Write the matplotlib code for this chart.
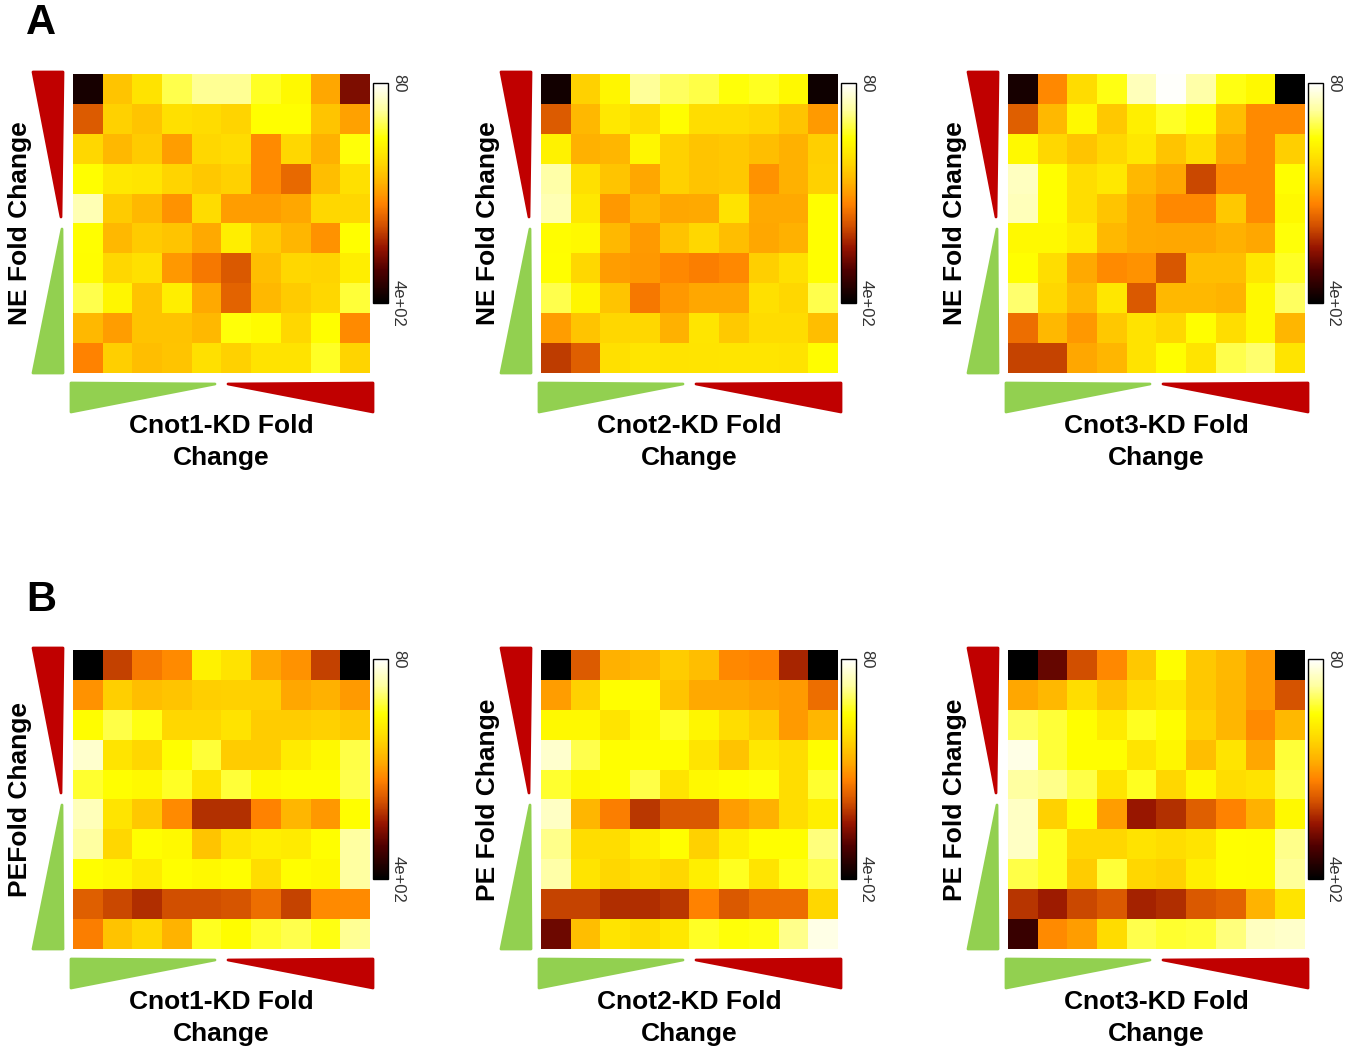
import numpy as np
import matplotlib
matplotlib.use("Agg")
import matplotlib.pyplot as plt
from matplotlib.colors import LinearSegmentedColormap
from matplotlib.patches import Polygon

plt.rcParams['font.family'] = ['Liberation Sans', 'DejaVu Sans']

# Значения (число генов в ячейке), строки сверху вниз
ne_cnot1 = [
    [385, 210, 185, 140, 122, 122, 150, 165, 232, 330],
    [280, 200, 210, 188, 192, 198, 160, 160, 210, 235],
    [195, 220, 205, 238, 195, 192, 250, 195, 225, 158],
    [160, 180, 183, 198, 208, 200, 250, 272, 215, 188],
    [110, 205, 220, 245, 192, 238, 238, 232, 195, 195],
    [160, 220, 205, 210, 230, 175, 205, 222, 245, 160],
    [162, 195, 188, 242, 262, 282, 215, 195, 198, 175],
    [140, 168, 212, 175, 230, 275, 220, 205, 196, 145],
    [220, 238, 212, 212, 220, 158, 163, 196, 160, 250],
    [255, 202, 215, 210, 188, 200, 185, 185, 150, 198],
]
ne_cnot2 = [
    [388, 200, 168, 120, 135, 142, 158, 152, 165, 390],
    [280, 220, 180, 192, 162, 190, 190, 195, 210, 240],
    [172, 225, 222, 168, 200, 210, 208, 215, 225, 202],
    [115, 188, 210, 232, 200, 210, 208, 245, 225, 200],
    [110, 180, 242, 220, 232, 230, 185, 230, 230, 160],
    [162, 166, 220, 240, 212, 196, 215, 232, 225, 160],
    [160, 196, 238, 242, 252, 258, 252, 202, 188, 160],
    [140, 168, 210, 262, 242, 232, 232, 188, 196, 140],
    [238, 210, 195, 195, 225, 183, 207, 192, 192, 215],
    [298, 278, 188, 183, 186, 184, 183, 183, 185, 162],
]
ne_cnot3 = [
    [385, 252, 192, 155, 108, 82, 115, 155, 165, 400],
    [278, 220, 165, 208, 174, 150, 162, 215, 250, 250],
    [166, 196, 210, 196, 182, 210, 190, 232, 250, 202],
    [105, 160, 190, 180, 220, 232, 292, 250, 250, 160],
    [108, 160, 190, 210, 230, 252, 252, 208, 250, 165],
    [165, 166, 178, 220, 230, 232, 232, 225, 232, 158],
    [160, 190, 230, 250, 246, 283, 215, 215, 182, 150],
    [132, 196, 220, 182, 282, 220, 220, 224, 165, 136],
    [268, 220, 242, 208, 186, 195, 160, 190, 166, 222],
    [294, 294, 232, 222, 185, 160, 184, 140, 132, 184],
]
pe_cnot1 = [
    [400, 295, 262, 250, 172, 186, 232, 245, 296, 400],
    [245, 202, 215, 210, 202, 200, 200, 232, 225, 240],
    [162, 142, 155, 195, 195, 186, 204, 204, 200, 208],
    [100, 184, 196, 160, 146, 204, 204, 178, 166, 142],
    [148, 160, 166, 150, 184, 146, 166, 160, 160, 140],
    [108, 184, 208, 250, 304, 304, 256, 222, 242, 160],
    [118, 196, 160, 165, 210, 184, 174, 178, 160, 118],
    [160, 166, 178, 160, 165, 160, 190, 160, 166, 118],
    [278, 292, 306, 288, 288, 284, 268, 294, 250, 250],
    [258, 212, 196, 224, 152, 162, 148, 140, 155, 122],
]
pe_cnot2 = [
    [400, 280, 225, 220, 204, 215, 252, 255, 310, 400],
    [238, 200, 160, 160, 210, 230, 230, 236, 240, 268],
    [166, 166, 184, 166, 150, 168, 190, 204, 240, 222],
    [100, 140, 160, 160, 160, 184, 212, 180, 190, 162],
    [148, 166, 160, 142, 184, 166, 160, 158, 190, 148],
    [104, 222, 258, 300, 282, 282, 238, 226, 190, 174],
    [124, 190, 190, 174, 160, 200, 174, 160, 160, 128],
    [115, 184, 196, 188, 196, 174, 152, 184, 154, 140],
    [294, 294, 306, 306, 300, 255, 282, 268, 268, 196],
    [338, 215, 184, 192, 180, 150, 158, 156, 124, 90],
]
pe_cnot3 = [
    [400, 342, 288, 252, 208, 162, 208, 220, 242, 400],
    [232, 220, 190, 212, 190, 180, 208, 222, 242, 286],
    [136, 146, 160, 178, 152, 162, 200, 222, 250, 220],
    [90, 146, 160, 160, 184, 168, 215, 184, 232, 146],
    [118, 124, 142, 184, 152, 196, 166, 190, 186, 142],
    [104, 200, 160, 238, 318, 304, 278, 255, 225, 166],
    [104, 152, 196, 196, 186, 190, 184, 160, 162, 124],
    [142, 152, 204, 146, 196, 200, 174, 160, 162, 120],
    [302, 316, 292, 282, 312, 306, 282, 276, 224, 184],
    [365, 250, 238, 192, 140, 148, 145, 128, 106, 102],
]

x_labels = ['Cnot1-KD Fold\nChange', 'Cnot2-KD Fold\nChange', 'Cnot3-KD Fold\nChange']
y_labels_ne = ['NE Fold Change', 'NE Fold Change', 'NE Fold Change']
y_labels_pe = ['PEFold Change', 'PE Fold Change', 'PE Fold Change']
scale_min = 80
scale_max = 400
scale_labels = ['80', '4e+02']

W, H = 1353, 1053
RED = '#C00000'
GREEN = '#92D050'

# Палитра: белый -> жёлтый -> оранжевый -> тёмно-красный -> чёрный
heat = LinearSegmentedColormap.from_list('heat', [
    (0.00, '#FFFFFF'),
    (0.12, '#FFFFA0'),
    (0.25, '#FFFF00'),
    (0.35, '#FFDC00'),
    (0.45, '#FFB400'),
    (0.55, '#FF8200'),
    (0.65, '#D25000'),
    (0.75, '#961400'),
    (0.85, '#500000'),
    (1.00, '#000000'),
])


# Перевод пиксельного прямоугольника в доли фигуры
def px_box(x0, y0, x1, y1):
    return [x0 / W, 1 - y1 / H, (x1 - x0) / W, (y1 - y0) / H]


def draw_panel(fig, over, data, hx0, hy0, xlabel, ylabel):

    hx1 = hx0 + 297
    hy1 = hy0 + 299

    # Тепловая карта
    ax = fig.add_axes(px_box(hx0, hy0, hx1, hy1))
    im = ax.imshow(np.array(data), cmap=heat, vmin=scale_min, vmax=scale_max,
                   aspect='auto', interpolation='nearest')
    ax.set_axis_off()

    # Шкала цвета
    cax = fig.add_axes(px_box(hx1 + 3, hy0 + 9, hx1 + 18, hy0 + 229))
    cb = fig.colorbar(im, cax=cax)
    cax.invert_yaxis()
    cb.outline.set_linewidth(1.0)
    cb.set_ticks([scale_min, scale_max])
    cb.set_ticklabels(scale_labels)
    cax.tick_params(length=0, pad=2, labelsize=12, labelcolor='#333333')
    for t in cax.get_yticklabels():
        t.set_rotation(270)
        t.set_va('center')

    # Треугольники слева
    over.add_patch(Polygon([(hx0 - 40, hy0 - 2), (hx0 - 10, hy0 - 2), (hx0 - 12, hy0 + 143)],
                           closed=True, fc=RED, ec=RED, lw=2, joinstyle='round'))
    over.add_patch(Polygon([(hx0 - 11, hy0 + 155), (hx0 - 10, hy1), (hx0 - 40, hy1)],
                           closed=True, fc=GREEN, ec=GREEN, lw=2, joinstyle='round'))

    # Треугольники снизу
    over.add_patch(Polygon([(hx0 - 2, hy1 + 10), (hx0 + 142, hy1 + 11), (hx0 - 2, hy1 + 39)],
                           closed=True, fc=GREEN, ec=GREEN, lw=2, joinstyle='round'))
    over.add_patch(Polygon([(hx0 + 155, hy1 + 11), (hx1 + 3, hy1 + 10), (hx1 + 3, hy1 + 39)],
                           closed=True, fc=RED, ec=RED, lw=2, joinstyle='round'))

    # Подписи осей
    over.text((hx0 + hx1) / 2, hy1 + 69, xlabel, ha='center', va='center',
              fontsize=19, fontweight='bold', linespacing=1.4)
    over.text(hx0 - 53, (hy0 + hy1) / 2, ylabel, ha='center', va='center',
              rotation=90, fontsize=19, fontweight='bold')


def main():

    fig = plt.figure(figsize=(W / 100, H / 100), dpi=100)

    # Слой для треугольников и подписей в пикселях
    over = fig.add_axes([0, 0, 1, 1])
    over.set_xlim(0, W)
    over.set_ylim(H, 0)
    over.set_axis_off()

    panels_ne = [ne_cnot1, ne_cnot2, ne_cnot3]
    panels_pe = [pe_cnot1, pe_cnot2, pe_cnot3]
    col_x = [73, 541, 1008]

    for i in range(3):
        draw_panel(fig, over, panels_ne[i], col_x[i], 74, x_labels[i], y_labels_ne[i])
        draw_panel(fig, over, panels_pe[i], col_x[i], 650, x_labels[i], y_labels_pe[i])

    over.text(41, 23, 'A', ha='center', va='center', fontsize=30, fontweight='bold')
    over.text(41, 600, 'B', ha='center', va='center', fontsize=30, fontweight='bold')

    fig.savefig('out.png', dpi=100)


if __name__ == "__main__":
    main()
